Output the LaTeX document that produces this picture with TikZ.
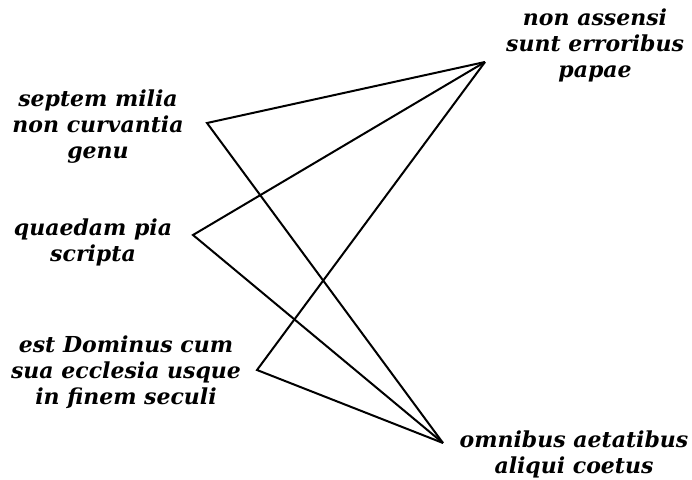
\documentclass[tikz,border=0pt]{standalone}
\usepackage{fontspec}
\setmainfont{DejaVu Serif}
\begin{document}
\begin{tikzpicture}[x=1pt,y=1pt,
  lbl/.style={font=\fontsize{22}{26}\selectfont\bfseries\itshape, align=center, inner sep=0pt},
  link/.style={line width=2pt, line join=miter}]
\useasboundingbox (0,0) rectangle (692,479);
% vertices
\coordinate (T) at (485,417);
\coordinate (B) at (443,36);
\coordinate (S) at (207,356);
\coordinate (Q) at (193,244);
\coordinate (E) at (257,109);
% labels
\node[lbl] (sep) at (98,352) {septem milia\\non curvantia\\genu};
\node[lbl] (qua) at (93,237) {quaedam pia\\scripta};
\node[lbl] (est) at (126,107) {est Dominus cum\\sua ecclesia usque\\in finem seculi};
\node[lbl] (non) at (595,434) {non assensi\\sunt erroribus\\papae};
\node[lbl] (omn) at (574,25) {omnibus aetatibus\\aliqui coetus};
% connectors
\draw[link] (T) -- (S) -- (B);
\draw[link] (T) -- (Q) -- (B);
\draw[link] (T) -- (E) -- (B);
\end{tikzpicture}
\end{document}
